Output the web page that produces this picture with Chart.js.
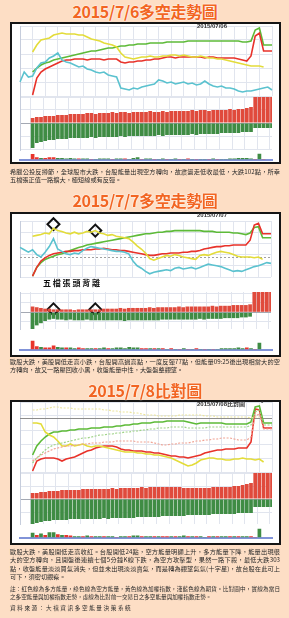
<!DOCTYPE html>
<html><head><meta charset="utf-8">
<script src="https://cdn.jsdelivr.net/npm/chart.js@4.4.1/dist/chart.umd.min.js"></script>
<style>
html,body{margin:0;padding:0;}
body{width:289px;height:618px;background:#fddec5;position:relative;overflow:hidden;font-family:"Noto Sans CJK TC","Noto Sans CJK SC",sans-serif;}
.title{position:absolute;left:0;width:290px;text-align:center;font-weight:700;color:#f26522;font-size:16px;line-height:18px;letter-spacing:-0.3px;text-shadow:0 0 1px #fff,0 0 2px #fff;z-index:3;}
.panel{position:absolute;left:10px;width:267px;border:2px solid #151515;background:#fff;z-index:1;}
.tag{position:absolute;font-family:"Liberation Sans",Arial,sans-serif;font-weight:700;font-size:6px;line-height:7px;color:#333;z-index:4;white-space:nowrap;}
.tagcn{font-family:"Noto Sans CJK TC",sans-serif;}
.note5{position:absolute;font-family:"Noto Sans CJK TC",sans-serif;font-weight:700;font-size:8px;line-height:10px;letter-spacing:1.8px;color:#111;z-index:4;white-space:nowrap;}
.cap{position:absolute;left:10px;width:270px;font-size:6.2px;line-height:8.5px;color:#2a2a2a;z-index:3;}
.cap div{white-space:nowrap;}
.cap .j{text-align:justify;text-align-last:justify;}
.small{font-size:5.6px;line-height:8px;}
</style></head>
<body>
<div class="title" style="top:2px">2015/7/6多空走勢圖</div>
<div class="panel" style="top:22px;height:138px"></div>
<div class="tag" style="left:197px;top:22.5px">2015/07/06</div>
<div class="cap" style="top:167.5px">
<div class="j">希臘公投反撙節，全球股市大跌，台股能量出現空方轉向，故震盪走低收最低，大跌102點，所幸</div>
<div>五檔張正值一路擴大，極短線或有反彈。</div>
</div>

<div class="title" style="top:191px">2015/7/7多空走勢圖</div>
<div class="panel" style="top:212px;height:141px"></div>
<div class="tag" style="left:197px;top:211.5px">2015/07/07</div>
<div class="note5" style="left:43px;top:278.3px">五檔張頭背離</div>
<div class="cap" style="top:357.5px">
<div class="j">歐股大跌，美股開低走高小跌，台股開高過高點，一度反彈77點，但能量09:25後出現相當大的空</div>
<div>方轉向，故又一路壓回收小黑，收盤能量中性，大盤盤整觀望。</div>
</div>

<div class="title" style="top:380.5px">2015/7/8比對圖</div>
<div class="panel" style="top:400px;height:141px"></div>
<div class="tag" style="left:197px;top:400px">2015/07/08<span class="tagcn">比對圖</span></div>
<div class="tag" style="left:261px;top:399.5px">*</div>
<div class="cap" style="top:547.5px">
<div class="j">歐股大跌，美股開低走高收紅。台股開低24點，空方能量明顯上升，多方能量下降，能量出現很</div>
<div class="j">大的空方轉向，且開盤後連續七個5分鐘K線下跌，為空方攻擊型，果然一路下殺，最低大跌303</div>
<div class="j">點，收盤能量淡淡買氣消失，但並未出現淡淡賣氣，而是轉為觀望氣氛(十字星)，故台股在此可上</div>
<div>可下，須密切觀察。</div>
</div>
<div class="cap small" style="top:585px">
<div class="j">註：紅色線為多方能量，綠色線為空方能量，黃色線為加權指數，淺藍色線為期貨。比對圖中，實線為當日</div>
<div>之多空能量與加權指數走勢，虛線為比對前一交易日之多空能量與加權指數走勢。</div>
</div>
<div class="cap small" style="top:604px;letter-spacing:1.6px">資料來源：大禧資訊多空能量決策系統</div>

<script>
const _ = null;
const timeLabels = ['08:45','08:50','08:55','09:00','09:05','09:10','09:15','09:20','09:25','09:30','09:35','09:40','09:45','09:50','09:55','10:00','10:05','10:10','10:15','10:20','10:25','10:30','10:35','10:40','10:45','10:50','10:55','11:00','11:05','11:10','11:15','11:20','11:25','11:30','11:35','11:40','11:45','11:50','11:55','12:00','12:05','12:10','12:15','12:20','12:25','12:30','12:35','12:40','12:45','12:50','12:55','13:00','13:05','13:10','13:15','13:20','13:25','13:30','13:35','13:40','13:45'];

// ---- 2015/07/06 ----
const yellow0706 = [_,_,_,44,51,56,57,58,61,62,63,62,62,62,61,61,59,57,56,55,53,52,51,49,43,39,38,37,38,39,39,40,39,39,40,40,41,41,40,41,40,39,39,40,39,38,38,37,37,36,35,34,33,32,31,30,30,30,29,_,_];
const green0706 = [_,_,_,24,28,31,33,34,36,37,38,39,40,41,42,43,44,45,45,46,47,48,48,49,50,50,51,51,52,52,52,53,53,53,53,54,54,54,54,54,55,55,55,55,55,55,55,55,55,55,55,55,55,54,54,55,66,68,51,51,51];
const red0706 = [_,_,_,1,18,24,27,29,31,33,35,36,36,37,37,37,36,37,37,37,36,37,37,37,34,33,34,34,35,35,36,36,37,37,38,39,39,38,39,39,39,39,39,39,38,39,39,38,38,38,38,38,37,36,35,40,60,63,45,45,45];
const cyan0706 = [14,24,19,20,28,33,34,38,40,43,36,34,33,31,29,30,27,26,24,23,24,21,20,19,8,7,6,8,7,9,10,11,12,16,15,13,14,12,13,14,12,13,11,12,15,12,10,9,10,8,8,7,5,4,5,5,6,7,8,9,6];
const barRed0706 = [_,_,_,5,6,6,7,7,7,8,8,8,9,9,9,9,10,10,9,10,10,10,11,10,11,11,10,11,11,11,11,12,11,11,12,11,12,12,12,12,12,13,12,13,13,12,13,13,13,13,14,13,14,14,15,16,26,26,26,26,26];
const barGreen0706 = [_,_,_,-25,-20,-19,-18,-17,-17,-16,-16,-16,-15,-15,-15,-15,-15,-14,-15,-14,-14,-14,-14,-14,-13,-14,-13,-13,-13,-13,-13,-13,-13,-12,-13,-12,-12,-12,-12,-12,-12,-11,-12,-11,-11,-11,-11,-11,-10,-10,-10,-10,-10,-9,-9,-9,-5,-5,-5,-5,-5];
const volRed0706 = [0,0,0,10,4,0,3,4,4,0,0,0,0,0,2,0,0,1,0,0,0,0,1,0,0,2,0,0,0,1,0,0,1,0,0,1,0,0,1,0,2,0,1,0,0,1,0,1,0,0,0,0,0,0,0,0,1,0,1,0,0];
const volGreen0706 = [0,0,0,0,0,3,0,0,0,3,3,2,3,2,0,2,2,0,1,2,2,2,0,2,2,0,1,3,4,0,2,2,0,1,2,0,1,2,0,1,0,1,0,1,1,0,2,0,1,1,2,2,3,3,3,2,0,11,0,0,0];

// ---- 2015/07/07 ----
const yellow0707 = [_,_,_,51,52,53,55,54,61,58,57,55,54,56,54,55,57,56,58,55,54,52,53,51,50,49,48,44,39,35,30,23,21,23,25,27,26,28,27,25,24,23,22,27,28,27,29,31,32,31,30,28,26,25,25,25,24,25,22,_,_];
const green0707 = [_,_,_,1,12,18,22,24,26,28,29,31,33,35,37,38,40,41,42,43,44,45,46,47,48,49,50,51,52,53,54,54,55,56,56,57,57,58,58,58,58,58,58,58,57,57,57,56,56,56,56,55,55,54,53,55,62,63,49,49,49];
const red0707 = [_,_,_,1,12,20,24,27,29,30,31,32,32,33,33,34,34,34,35,35,36,35,34,34,33,33,32,31,30,29,28,27,27,28,29,29,30,30,30,31,31,32,32,33,35,36,37,38,38,39,39,40,40,40,40,46,65,67,54,54,54];
const cyan0707 = [37,34,31,34,28,25,31,38,48,35,32,29,28,30,29,33,36,38,37,36,35,34,33,32,32,31,29,20,14,11,7,4,6,7,8,9,8,11,12,10,11,12,10,12,14,16,15,14,13,11,9,7,8,7,9,11,13,14,16,18,17];
const barRed0707 = [_,_,_,8,7,6,5,5,4,4,4,4,4,3,4,4,4,4,4,4,5,5,5,5,6,5,6,6,6,6,6,7,6,7,7,7,7,7,8,7,8,8,8,8,8,8,9,8,9,9,9,10,10,10,10,11,28,28,28,28,28];
const barGreen0707 = [_,_,_,-23,-18,-15,-12,-10,-9,-10,-10,-11,-10,-11,-11,-11,-10,-11,-11,-11,-11,-11,-11,-11,-11,-12,-11,-11,-11,-11,-11,-11,-11,-11,-10,-10,-10,-10,-10,-10,-10,-10,-10,-9,-10,-9,-9,-9,-9,-8,-8,-8,-8,-7,-7,-6,0,0,0,0,0];
const volRed0707 = [0,0,0,13,5,0,3,3,6,0,0,3,0,0,3,2,0,0,2,0,0,2,0,0,0,0,0,0,0,2,2,0,2,0,2,0,2,0,1,0,1,0,2,0,1,0,1,0,0,0,0,0,0,0,3,0,1,0,0,0,0];
const volGreen0707 = [0,0,0,0,0,4,0,0,0,4,3,0,3,2,0,0,2,2,0,2,3,0,2,3,3,2,4,3,3,0,0,2,0,2,0,1,0,1,0,2,0,1,0,1,0,1,0,1,2,2,2,2,3,2,0,2,0,10,0,0,0];
const divergenceIdx0707 = [8, 18];
const divergenceIndex0707 = [66, 58];
const divergenceBar0707 = [4, 4];
const flatLevel0707 = 25;

// ---- 2015/07/08 (solid = 7/8, dotted = previous day) ----
const yellowPrev0708 = [_,_,_,62,62,63,63,64,65,65,64,64,64,63,63,63,63,63,63,63,62,62,61,61,60,60,60,59,59,58,57,57,57,56,56,56,56,56,57,57,57,57,57,57,56,56,56,55,55,55,55,55,55,55,55,54,55,55,_,_,_];
const yellow0708 = [_,_,_,49,49,48,40,37,35,31,26,26,28,26,27,28,26,25,26,26,25,24,23,22,21,20,20,20,19,19,18,18,17,17,16,15,14,12,10,8,6,7,9,12,13,14,14,13,13,12,12,13,13,14,13,13,12,13,10,_,_];
const green0708 = [_,_,_,17,26,31,35,38,40,40,41,41,42,42,43,43,43,44,44,44,45,45,45,46,46,47,47,48,48,49,49,49,50,50,50,51,51,51,51,51,50,49,48,49,49,49,49,49,49,48,48,48,48,48,48,50,65,66,49,49,49];
const greenPrev0708 = [_,_,_,9,14,18,22,25,27,28,29,30,31,32,33,34,34,35,36,37,37,38,38,39,39,40,40,41,41,42,42,43,43,44,44,44,45,45,45,45,44,44,44,44,44,45,45,45,45,45,45,45,45,45,45,47,60,62,47,47,47];
const redPrev0708 = [_,_,_,11,14,17,19,21,23,24,25,26,26,27,27,28,28,29,29,29,30,30,30,31,31,31,31,31,30,30,30,30,29,28,27,27,28,28,29,29,29,30,31,31,32,32,33,33,34,34,34,33,32,32,32,35,56,58,43,43,43];
const red0708 = [_,_,_,1,11,13,14,14,14,13,11,13,14,15,17,19,21,22,24,25,26,26,26,25,23,22,22,21,21,21,20,20,19,19,18,17,16,16,15,15,14,15,16,17,19,20,21,22,22,23,23,23,24,24,24,30,63,62,44,44,44];
const barRed0708 = [_,_,_,6,6,7,7,8,8,8,9,9,9,9,9,10,10,10,10,10,10,10,11,10,11,11,11,11,11,12,11,12,12,12,12,12,12,12,12,11,11,11,11,11,11,11,12,12,12,12,12,13,13,14,15,16,26,26,26,26,26];
const barGreen0708 = [_,_,_,-25,-24,-23,-22,-22,-21,-21,-21,-21,-20,-20,-20,-20,-20,-20,-20,-20,-19,-20,-19,-19,-19,-19,-19,-19,-18,-18,-18,-18,-18,-18,-17,-17,-17,-17,-17,-17,-16,-16,-16,-16,-16,-16,-15,-15,-15,-15,-15,-15,-14,-14,-14,-14,-8,-8,-8,-8,-8];
const volRed0708 = [0,0,0,0,4,0,4,0,0,5,0,4,3,0,0,2,0,2,0,0,2,0,0,1,0,0,2,0,0,2,0,0,2,0,2,2,0,2,0,0,2,0,2,0,0,2,0,2,0,0,2,0,2,0,0,2,1,0,0,0,0];
const volGreen0708 = [0,0,0,7,0,6,0,8,8,0,4,0,0,2,2,0,3,0,2,2,0,2,2,0,2,2,0,3,3,0,2,2,0,2,0,0,2,0,2,3,0,2,0,2,1,0,2,0,2,2,0,2,0,2,2,0,0,13,0,0,0];
const prevCloseLevel0708 = 54;

// length check
const all = {yellow0706,green0706,red0706,cyan0706,barRed0706,barGreen0706,volRed0706,volGreen0706,yellow0707,green0707,red0707,cyan0707,barRed0707,barGreen0707,volRed0707,volGreen0707,yellowPrev0708,yellow0708,green0708,greenPrev0708,redPrev0708,red0708,barRed0708,barGreen0708,volRed0708,volGreen0708};
const bad = Object.entries(all).filter(([k,v]) => v.length !== timeLabels.length).map(([k,v]) => k+':'+v.length);
if (bad.length) throw new Error('length mismatch ' + bad.join(','));

// ---- styling ----
const RED='#e8322a', GREEN='#5dba38', YELLOW='#e3dc3a', CYAN='#5bc2cf';
const RED_D='#f0a394', GREEN_D='#9dd285', YELLOW_D='#ece59c';
const BAR_RED='#e04a3c', BAR_GREEN='#3f8c44';
const GRID='#e1e5ee', AXIS='#c6cddc';

const refLinePlugin = { id:'refLine', beforeDatasetsDraw(chart, args, o) {
  if (!o || o.value == null) return;
  const y = Math.round(chart.scales.y.getPixelForValue(o.value)) + 0.5, a = chart.chartArea, ctx = chart.ctx;
  ctx.save(); ctx.strokeStyle = o.color; ctx.lineWidth = o.width || 1; ctx.setLineDash(o.dash || []);
  ctx.beginPath(); ctx.moveTo(a.left, y); ctx.lineTo(a.right, y); ctx.stroke(); ctx.restore();
}};
Chart.register(refLinePlugin);

function mount(top, bottom) {
  const c = document.createElement('canvas');
  const h = bottom - top + 2;
  c.width = 267; c.height = h;
  c.style.cssText = 'position:absolute;left:12px;top:' + (top - 1) + 'px;width:267px;height:' + h + 'px;z-index:2';
  document.body.appendChild(c);
  return c;
}
function baseX() {
  return { type:'category', offset:false, stacked:true, ticks:{display:false}, border:{display:false},
    grid:{drawTicks:false, color:(c) => c.index % 3 === 0 ? GRID : 'rgba(0,0,0,0)'},
    afterFit:(s) => { s.height = 0; } };
}
const common = { responsive:false, animation:false, devicePixelRatio:1, events:[] };

function drawLines(top, bottom, series, ref, extra) {
  const datasets = series.map(s => ({ type:'line', data:s.data, borderColor:s.color, borderWidth:s.w || 1.6,
    borderDash:s.dash || [], pointRadius:0, tension:0, fill:false, spanGaps:false }));
  if (extra) datasets.push(...extra);
  new Chart(mount(top, bottom), { type:'line', data:{ labels:timeLabels, datasets },
    options:{ ...common, layout:{padding:{top:1, bottom:1, left:0, right:7}},
      plugins:{ legend:{display:false}, tooltip:{enabled:false}, refLine: ref || {} },
      scales:{ x:baseX(),
        y:{ min:0, max:70, ticks:{display:false, stepSize:14}, border:{display:true, color:AXIS},
            grid:{drawTicks:false, color:GRID}, afterFit:(s) => { s.width = 8; } } } } });
}
function drawBars(top, bottom, pos, neg, min, max, gridVals, extra) {
  const datasets = [
    { type:'bar', data:pos, backgroundColor:BAR_RED, barPercentage:0.88, categoryPercentage:1, stack:'e' },
    { type:'bar', data:neg, backgroundColor:BAR_GREEN, barPercentage:0.88, categoryPercentage:1, stack:'e' } ];
  if (extra) datasets.push(...extra);
  new Chart(mount(top, bottom), { type:'bar', data:{ labels:timeLabels, datasets },
    options:{ ...common, layout:{padding:{top:1, bottom:1, left:0, right:7}},
      plugins:{ legend:{display:false}, tooltip:{enabled:false} },
      scales:{ x:baseX(),
        y:{ min, max, stacked:true, ticks:{display:false}, border:{display:true, color:AXIS},
            afterBuildTicks:(s) => { s.ticks = gridVals.map(v => ({value:v})); },
            grid:{drawTicks:false, color:(c) => (c.tick && c.tick.value === 0) ? '#a4a9b3' : GRID},
            afterFit:(s) => { s.width = 8; } } } } });
}
function drawVol(top, bottom, up, down, max) {
  const tk = { font:{size:4, family:'Liberation Sans'}, color:'#8c8c8c', padding:1, stepSize:5 };
  new Chart(mount(top, bottom), { type:'bar', data:{ labels:timeLabels, datasets:[
      { data:up, backgroundColor:'#e8352c', barPercentage:0.88, categoryPercentage:1, stack:'v' },
      { data:down, backgroundColor:BAR_GREEN, barPercentage:0.88, categoryPercentage:1, stack:'v' } ] },
    options:{ ...common, layout:{padding:{top:1, bottom:1, left:0, right:0}},
      plugins:{ legend:{display:false}, tooltip:{enabled:false} },
      scales:{ x:{ ...baseX(), grid:{display:false}, border:{display:true, color:'#8193d8', width:2, dash:[1,1]} },
        y:{ min:0, max, stacked:true, grid:{display:false}, border:{display:false}, ticks:tk, afterFit:(s) => { s.width = 8; } },
        y2:{ position:'right', min:0, max, grid:{display:false}, border:{display:false}, ticks:tk, afterFit:(s) => { s.width = 7; } } } } });
}
function diamonds(idx, vals) {
  return { type:'line', showLine:false, stack:'d', clip:false, data: idx.map((k, j) => ({ x: timeLabels[k], y: vals[j] })),
    pointStyle:'rectRot', pointRadius:6, pointBorderWidth:2, borderColor:'#111', pointBorderColor:'#111',
    pointBackgroundColor:'rgba(0,0,0,0)', backgroundColor:'rgba(0,0,0,0)' };
}

// Panel 1
drawLines(26, 96, [
  {data:cyan0706, color:CYAN}, {data:yellow0706, color:YELLOW}, {data:red0706, color:RED}, {data:green0706, color:GREEN}
]);
drawBars(97, 150, barRed0706, barGreen0706, -27, 26, [-26,-13,0,13,26]);
drawVol(151, 162, volRed0706, volGreen0706, 11);

// Panel 2
drawLines(214, 284, [
  {data:cyan0707, color:CYAN}, {data:yellow0707, color:YELLOW}, {data:red0707, color:RED}, {data:green0707, color:GREEN}
], {value:flatLevel0707, color:'#a0a0a0', dash:[2,2]}, [diamonds(divergenceIdx0707, divergenceIndex0707)]);
drawBars(285, 336, barRed0707, barGreen0707, -23, 28, [-13,0,13,26], [diamonds(divergenceIdx0707, divergenceBar0707)]);
drawVol(337, 352, volRed0707, volGreen0707, 15);

// Panel 3
drawLines(402, 472, [
  {data:yellowPrev0708, color:YELLOW_D, dash:[2,1.5], w:1.2},
  {data:greenPrev0708, color:GREEN_D, dash:[2,1.5], w:1.2},
  {data:redPrev0708, color:RED_D, dash:[2,1.5], w:1.2},
  {data:yellow0708, color:YELLOW}, {data:green0708, color:GREEN}, {data:red0708, color:RED}
], {value:prevCloseLevel0708, color:'#8d8d8d', dash:[]});
drawBars(473, 524, barRed0708, barGreen0708, -25, 26, [-13,0,13,26]);
drawVol(525, 540, volRed0708, volGreen0708, 15);
</script>
</body></html>
